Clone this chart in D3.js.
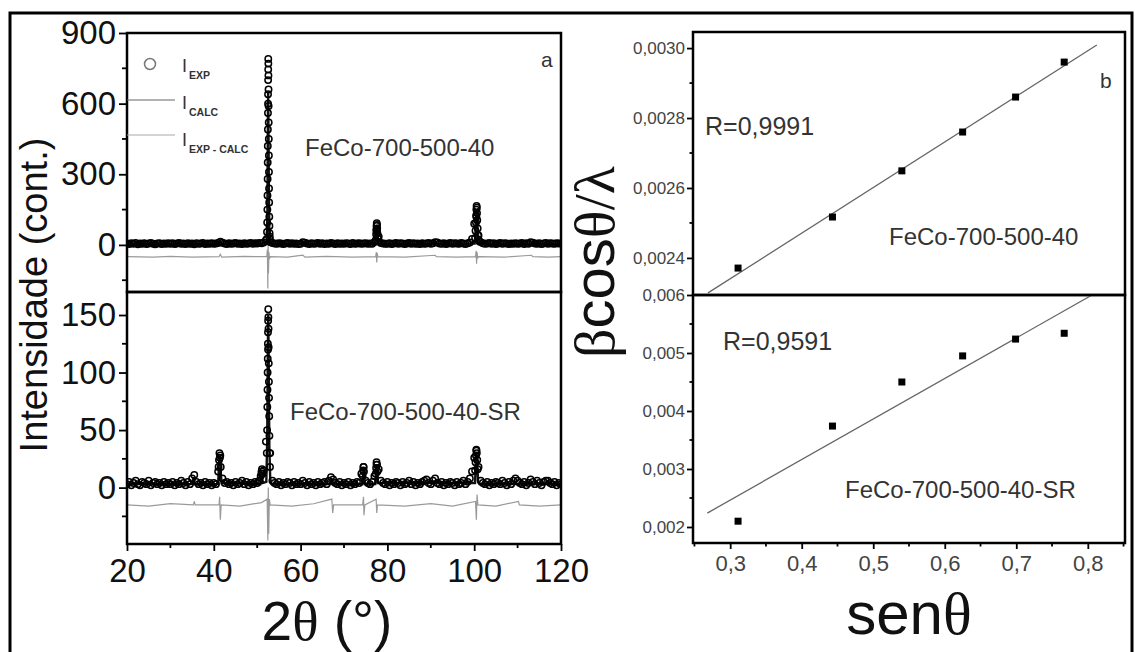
<!DOCTYPE html>
<html>
<head>
<meta charset="utf-8">
<script src="https://cdn.jsdelivr.net/npm/d3@7"></script>
<style>
  body { margin: 0; background: #fff; }
  svg { display: block; font-family: "Liberation Sans", Arial, sans-serif; }
</style>
</head>
<body>
<svg id="chart" width="1135" height="652"></svg>
<script>
// ---- data ----
// XRD patterns: I_EXP baseline read every 0.5 deg from 20 to 120
const twoThetaStart = 20;
const twoThetaStep = 0.5;

// panel a, top: FeCo-700-500-40
const expBaseTop = [
  6,4,7,5,8,3,6,5,7,4,6,8,5,3,6,7,4,6,5,7,
  5,7,4,6,8,5,6,4,7,5,6,3,7,5,6,8,4,6,5,7,
  5,6,8,14,9,6,4,7,5,6,8,5,6,4,7,5,6,8,5,7,
  6,8,7,10,20,600,12,8,6,5,7,6,4,6,8,5,7,5,6,4,
  5,12,9,6,4,7,5,6,8,5,7,4,6,5,8,6,4,7,5,6,
  5,7,6,4,8,5,6,7,5,6,7,5,6,5,12,60,35,8,6,5,
  5,7,4,6,8,5,7,6,4,6,8,5,7,5,6,4,7,5,6,8,
  5,7,12,10,6,5,7,4,6,8,5,7,6,5,8,6,4,7,10,25,
  90,120,40,12,7,5,6,8,5,7,4,6,8,5,7,6,4,6,5,7,
  5,6,8,4,7,5,12,9,6,5,7,4,6,8,5,7,6,5,7,6,
  6
];
const expPeaksTop = [
  [52.2,25],[52.26,55],[52.3,95],[52.34,150],[52.37,210],[52.4,280],[52.42,350],[52.44,420],
  [52.46,490],[52.48,560],[52.5,640],[52.52,700],[52.54,745],[52.55,790],[52.57,770],[52.59,720],
  [52.61,660],[52.63,590],[52.65,520],[52.67,450],[52.69,380],[52.71,310],[52.73,240],[52.76,180],
  [52.79,120],[52.82,80],[52.86,50],[52.9,35],[52.95,22],
  [77.3,20],[77.4,45],[77.45,65],[77.5,80],[77.55,92],[77.6,85],[77.65,70],[77.7,50],[77.8,28],[77.9,14],
  [100.2,30],[100.3,60],[100.4,95],[100.45,125],[100.5,150],[100.55,165],[100.6,158],[100.65,135],
  [100.7,105],[100.8,70],[100.9,40],[101.0,22],[101.2,15]
];
const calcTop = [
  [20,5],[41,5],[41.5,9],[42,5],[52.1,6],[52.25,40],[52.35,150],[52.45,480],[52.52,650],[52.6,480],
  [52.7,200],[52.8,60],[52.95,15],[53.2,6],[60.3,5],[60.6,9],[61,5],[77.2,5],[77.4,35],[77.55,85],
  [77.7,40],[77.9,8],[78.2,5],[90.8,5],[91.1,9],[91.4,5],[100.1,6],[100.3,50],[100.5,140],[100.6,150],
  [100.75,80],[100.95,25],[101.3,8],[101.6,5],[113,5],[113.3,9],[113.6,5],[120,5]
];
const diffTop = [
  [20,-50],[26,-52],[30,-49],[35,-52],[41.2,-50],[41.5,-40],[41.8,-52],[47,-49],[52.2,-50],[52.35,-20],
  [52.45,-185],[52.52,10],[52.6,-120],[52.7,-30],[52.8,-60],[53,-50],[57,-52],[60.5,-43],[61,-52],
  [66,-49],[72,-52],[77.3,-50],[77.45,-30],[77.55,-75],[77.65,-35],[77.8,-50],[84,-52],[91,-44],
  [91.3,-50],[96,-52],[100.3,-50],[100.45,-25],[100.55,-80],[100.65,-30],[100.8,-55],[101,-50],
  [107,-52],[113.2,-44],[113.5,-50],[117,-52],[120,-50]
];

// panel a, bottom: FeCo-700-500-40-SR
const expBaseBottom = [
  3,5,2,4,6,3,2,5,4,3,6,2,4,5,3,4,2,5,3,4,
  3,5,2,4,3,6,4,2,5,3,8,11,5,3,4,2,5,3,4,2,
  4,3,14,28,8,4,5,3,4,2,5,3,4,6,3,5,2,4,3,5,
  4,6,12,15,40,120,30,6,4,3,5,2,4,3,5,4,2,5,3,4,
  3,6,4,2,5,3,4,2,5,3,4,5,3,6,9,7,4,3,5,2,
  4,3,5,2,4,3,5,4,12,18,6,4,3,5,10,20,16,6,4,3,
  5,2,4,3,5,4,2,5,3,4,6,3,5,2,4,3,5,6,7,4,
  3,6,8,4,3,5,2,4,3,5,4,2,5,3,4,6,3,5,8,14,
  26,32,18,6,4,3,5,2,4,3,5,4,3,6,4,2,5,3,6,8,
  6,4,3,5,2,4,7,5,3,6,4,2,5,6,6,4,3,5,2,4,
  3
];
const expPeaksBottom = [
  [41.1,18],[41.2,24],[41.3,30],[41.4,26],[41.6,18],
  [50.8,10],[51.0,14],[51.1,16],[51.2,12],
  [52.2,30],[52.28,50],[52.33,70],[52.37,85],[52.4,100],[52.43,112],[52.46,125],[52.49,135],
  [52.52,145],[52.55,155],[52.58,148],[52.61,138],[52.64,122],[52.67,108],[52.7,92],[52.73,78],
  [52.77,62],[52.82,45],[52.88,30],[52.95,18],
  [74.3,10],[74.4,15],[74.5,18],[74.6,14],
  [77.3,12],[77.4,17],[77.5,22],[77.6,20],[77.7,14],
  [100.2,15],[100.3,22],[100.4,28],[100.5,33],[100.6,30],[100.7,24],[100.8,16]
];
const calcBottom = [
  [20,3],[35,3],[35.3,9],[35.6,3],[41,3],[41.2,20],[41.35,28],[41.5,18],[41.8,4],[50.7,3],[51,12],
  [51.3,4],[52.1,5],[52.3,40],[52.45,120],[52.55,150],[52.65,110],[52.8,35],[53,8],[53.3,3],[67,3],
  [67.2,8],[67.5,3],[74.2,3],[74.5,16],[74.8,3],[77.2,3],[77.5,20],[77.8,4],[100.2,4],[100.45,30],
  [100.6,28],[100.9,6],[101.2,3],[120,3]
];
const diffBottom = [
  [20,-15],[25,-16],[30,-14],[35.3,-15],[35.5,-12],[35.7,-15],[41.2,-15],[41.35,-8],[41.5,-28],
  [41.7,-15],[46,-16],[51,-13],[52.3,-10],[52.45,-46],[52.55,0],[52.65,-40],[52.8,-10],[53,-15],
  [58,-16],[63,-14],[67.2,-10],[67.4,-22],[67.6,-15],[74.3,-15],[74.5,-8],[74.6,-24],[74.8,-15],
  [77.4,-10],[77.55,-22],[77.7,-15],[84,-16],[90,-14],[95,-16],[100.3,-12],[100.5,-28],[100.65,-6],
  [100.85,-15],[105,-16],[110.2,-12],[110.4,-15],[115,-16],[120,-15]
];

// panel b: Williamson-Hall points (sen theta, beta cos theta / lambda)
const sinTheta = [0.311, 0.443, 0.540, 0.625, 0.699, 0.767];
const whTop = [0.002371, 0.002517, 0.002649, 0.002760, 0.002860, 0.002960];
const whBottom = [0.00210, 0.00374, 0.00450, 0.00495, 0.00524, 0.00534];
const fitTop = [[0.269, 0.00230], [0.8126, 0.003009]];
const fitBottom = [[0.268, 0.00224], [0.806, 0.00600]];

const ticksTwoTheta = [20, 40, 60, 80, 100, 120];
const minorTwoTheta = [30, 50, 70, 90, 110];
const ticksTopY = [0, 300, 600, 900];
const minorTopY = [-150, 150, 450, 750];
const ticksBottomY = [0, 50, 100, 150];
const minorBottomY = [-25, 25, 75, 125];
const ticksSin = [0.3, 0.4, 0.5, 0.6, 0.7, 0.8];
const minorSin = [0.25, 0.35, 0.45, 0.55, 0.65, 0.75, 0.85];
const ticksWhTop = [0.0024, 0.0026, 0.0028, 0.0030];
const minorWhTop = [0.0025, 0.0027, 0.0029];
const ticksWhBottom = [0.002, 0.003, 0.004, 0.005, 0.006];
const minorWhBottom = [0.0025, 0.0035, 0.0045, 0.0055];

// ---- drawing ----
const svg = d3.select("#chart");
const comma = (f) => (d) => d3.format(f)(d).replace(".", ",");

// outer frame of the figure
svg.append("rect").attr("x", 10).attr("y", 13).attr("width", 1122).attr("height", 660)
  .attr("fill", "none").attr("stroke", "#000").attr("stroke-width", 3);

// left panels geometry
const L = { left: 127, right: 561, top: 33, mid: 292, bottom: 544 };
const x2t = d3.scaleLinear().domain([20, 120]).range([L.left, L.right]);

function minorTicks(g, scale, values, orient, len) {
  g.selectAll("line.minor").data(values).join("line").attr("class", "minor")
    .attr("x1", (d) => orient === "left" ? 0 : scale(d))
    .attr("x2", (d) => orient === "left" ? -len : scale(d))
    .attr("y1", (d) => orient === "left" ? scale(d) : 0)
    .attr("y2", (d) => orient === "left" ? scale(d) : len)
    .attr("stroke", "#000").attr("stroke-width", 1.8);
}

function styleAxis(g, size, color) {
  g.select(".domain").remove();
  g.selectAll(".tick line").attr("stroke", "#000").attr("stroke-width", 1.8);
  g.selectAll(".tick text").attr("font-size", size).attr("fill", color)
    .attr("font-family", "'Liberation Sans', Arial, sans-serif");
}

function drawXrd(id, top, bottom, yDomain, base, peaks, calc, diff, ticks, minor) {
  const y = d3.scaleLinear().domain(yDomain).range([bottom, top]);
  svg.append("clipPath").attr("id", id).append("rect")
    .attr("x", L.left).attr("y", top).attr("width", L.right - L.left).attr("height", bottom - top);
  const g = svg.append("g").attr("clip-path", `url(#${id})`);
  const line = d3.line().x((d) => x2t(d[0])).y((d) => y(d[1]));

  g.append("path").datum(diff).attr("d", line)
    .attr("fill", "none").attr("stroke", "#9a9a9a").attr("stroke-width", 1.2);

  // I_CALC drawn first as a heavy dark trace, circles on top of it
  g.append("path").datum(calc).attr("d", line)
    .attr("fill", "none").attr("stroke", "#111").attr("stroke-width", 2.4);

  const exp = base.map((v, i) => [twoThetaStart + i * twoThetaStep, v]).concat(peaks);
  g.selectAll("circle").data(exp).join("circle")
    .attr("cx", (d) => x2t(d[0])).attr("cy", (d) => y(d[1])).attr("r", 3.2)
    .attr("fill", "none").attr("stroke", "#000").attr("stroke-width", 1.5);

  const ax = svg.append("g").attr("transform", `translate(${L.left},0)`)
    .call(d3.axisLeft(y).tickValues(ticks).tickSize(8).tickPadding(3));
  styleAxis(ax, 33, "#111");
  minorTicks(ax, y, minor, "left", 5);

  svg.append("rect").attr("x", L.left).attr("y", top)
    .attr("width", L.right - L.left).attr("height", bottom - top)
    .attr("fill", "none").attr("stroke", "#000").attr("stroke-width", 2.5);
  return y;
}

drawXrd("clipA1", L.top, L.mid, [-200, 900], expBaseTop, expPeaksTop, calcTop, diffTop, ticksTopY, minorTopY);
drawXrd("clipA2", L.mid, L.bottom, [-49, 170], expBaseBottom, expPeaksBottom, calcBottom, diffBottom, ticksBottomY, minorBottomY);

const axX = svg.append("g").attr("transform", `translate(0,${L.bottom})`)
  .call(d3.axisBottom(x2t).tickValues(ticksTwoTheta).tickSize(7).tickPadding(8));
styleAxis(axX, 33, "#111");
minorTicks(axX, x2t, minorTwoTheta, "bottom", 4);

// legend and labels of panel a
svg.append("circle").attr("cx", 150).attr("cy", 64).attr("r", 5.5)
  .attr("fill", "none").attr("stroke", "#777").attr("stroke-width", 1.5);
svg.append("line").attr("x1", L.left).attr("x2", 175).attr("y1", 100).attr("y2", 100)
  .attr("stroke", "#666").attr("stroke-width", 1.2);
svg.append("line").attr("x1", L.left).attr("x2", 175).attr("y1", 135).attr("y2", 135)
  .attr("stroke", "#aaa").attr("stroke-width", 1.2);
[["EXP", 72], ["CALC", 109], ["EXP - CALC", 146]].forEach(([sub, yb]) => {
  const t = svg.append("text").attr("x", 182).attr("y", yb).attr("fill", "#333").attr("font-size", 18);
  t.append("tspan").text("I");
  t.append("tspan").attr("dy", 7).attr("dx", 2).attr("font-size", 10.5).attr("font-weight", "bold").text(sub);
});

const note = (x, y, s, txt, anchor = "start") =>
  svg.append("text").attr("x", x).attr("y", y).attr("font-size", s).attr("fill", "#333")
    .attr("text-anchor", anchor).text(txt);

note(541, 67, 21, "a");
note(305, 156, 24, "FeCo-700-500-40");
note(290, 420, 24, "FeCo-700-500-40-SR");

svg.append("text").attr("transform", "translate(47,295) rotate(-90)")
  .attr("text-anchor", "middle").attr("font-size", 38).attr("fill", "#111")
  .text("Intensidade (cont.)");

const xt = svg.append("text").attr("x", 327).attr("y", 640).attr("text-anchor", "middle")
  .attr("font-size", 55).attr("fill", "#111");
xt.append("tspan").text("2");
xt.append("tspan").attr("font-family", "'Liberation Serif', serif").text("θ");
xt.append("tspan").text(" (°)");

// right panels geometry
const R = { left: 693, right: 1125, top: 32, mid: 295, bottom: 543 };
const xs = d3.scaleLinear().domain([0.248, 0.852]).range([R.left, R.right]);

function drawWh(id, top, bottom, yDomain, vals, fit, ticks, minor, fmt) {
  const y = d3.scaleLinear().domain(yDomain).range([bottom, top]);
  svg.append("clipPath").attr("id", id).append("rect")
    .attr("x", R.left).attr("y", top).attr("width", R.right - R.left).attr("height", bottom - top);
  const g = svg.append("g").attr("clip-path", `url(#${id})`);
  g.append("path").datum(fit)
    .attr("d", d3.line().x((d) => xs(d[0])).y((d) => y(d[1])))
    .attr("fill", "none").attr("stroke", "#666").attr("stroke-width", 1.3);
  g.selectAll("rect.pt").data(vals).join("rect").attr("class", "pt")
    .attr("x", (d, i) => xs(sinTheta[i]) - 3.5).attr("y", (d) => y(d) - 3.5)
    .attr("width", 7).attr("height", 7).attr("fill", "#000");

  const ax = svg.append("g").attr("transform", `translate(${R.left},0)`)
    .call(d3.axisLeft(y).tickValues(ticks).tickSize(6).tickPadding(2).tickFormat(comma(fmt)));
  styleAxis(ax, 17, "#444");
  minorTicks(ax, y, minor, "left", 3.5);

  svg.append("rect").attr("x", R.left).attr("y", top)
    .attr("width", R.right - R.left).attr("height", bottom - top)
    .attr("fill", "none").attr("stroke", "#000").attr("stroke-width", 2.5);
}

drawWh("clipB1", R.top, R.mid, [0.002294, 0.003046], whTop, fitTop, ticksWhTop, minorWhTop, ".4f");
drawWh("clipB2", R.mid, R.bottom, [0.001724, 0.006], whBottom, fitBottom, ticksWhBottom, minorWhBottom, ".3f");

const axS = svg.append("g").attr("transform", `translate(0,${R.bottom})`)
  .call(d3.axisBottom(xs).tickValues(ticksSin).tickSize(6).tickPadding(6).tickFormat(comma(".1f")));
styleAxis(axS, 22, "#444");
minorTicks(axS, xs, minorSin, "bottom", 3.5);

note(1100, 88, 21, "b");
note(705, 135, 25, "R=0,9991");
note(889, 245, 24, "FeCo-700-500-40");
note(723, 350, 25, "R=0,9591");
note(845, 498, 24, "FeCo-700-500-40-SR");

const yt = svg.append("text").attr("transform", "translate(614,262) rotate(-90)")
  .attr("text-anchor", "middle").attr("font-size", 58).attr("fill", "#111");
yt.append("tspan").attr("font-family", "'Liberation Serif', serif").text("β");
yt.append("tspan").text("cos");
yt.append("tspan").attr("font-family", "'Liberation Serif', serif").text("θ/λ");

const st = svg.append("text").attr("x", 909).attr("y", 634).attr("text-anchor", "middle")
  .attr("font-size", 60).attr("fill", "#111");
st.append("tspan").text("sen");
st.append("tspan").attr("font-family", "'Liberation Serif', serif").text("θ");
</script>
</body>
</html>
